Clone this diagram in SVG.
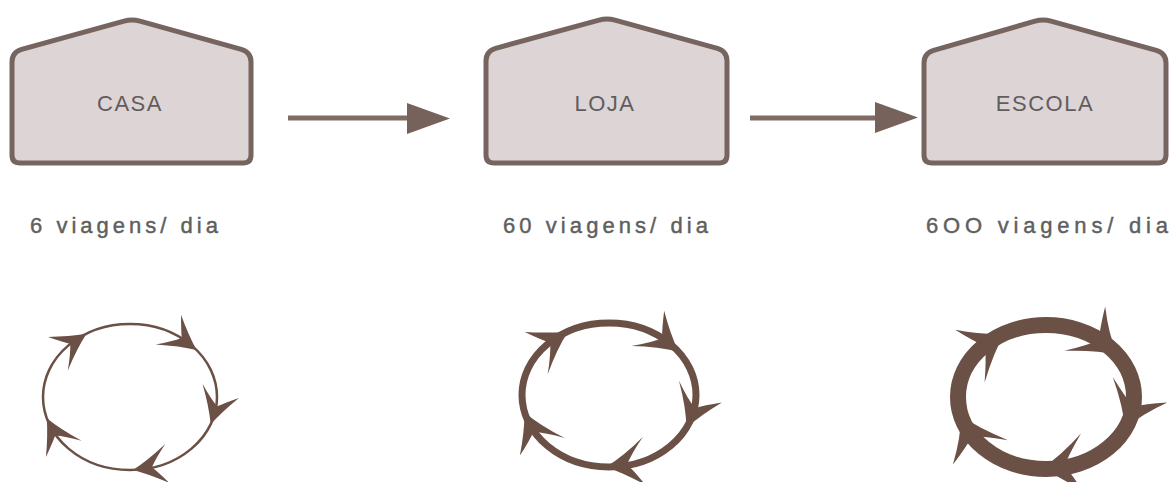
<svg xmlns="http://www.w3.org/2000/svg" width="1172" height="482" viewBox="0 0 1172 482">
  <style>
    .house { fill: #dcd4d5; stroke: #76655f; stroke-width: 5; stroke-linejoin: round; }
    .name { font-family: "Liberation Sans", Arial, sans-serif; font-size: 22px; fill: #625c5e; letter-spacing: 1.5px; }
    .rate { font-family: "Liberation Sans", Arial, sans-serif; font-size: 22px; fill: #5f5f5f; stroke: #5f5f5f; stroke-width: 0.45px; }
    .link { stroke: #7f6c65; stroke-width: 5; fill: none; }
    .linkhead { fill: #76625a; }
    .ring { fill: none; stroke: #6b5046; }
    .head { fill: #6b5046; }
  </style>
  <defs>
    <!-- swept arrowheads for the cycle rings; tip at origin, pointing +x, +y toward ring centre -->
    <path id="head-s" d="M0,0 Q-17,-5 -36,-14 Q-25,-3 -19,2 Q-23,11 -33,25 Q-15,9 0,0 Z"/>
    <path id="head-m" d="M0,0 Q-19,-6 -40,-17 Q-28,-3 -21,3 Q-25,14 -36,31 Q-17,11 0,0 Z"/>
    <path id="head-l" d="M0,0 Q-21,-7 -44,-23 Q-31,-4 -23,4 Q-27,16 -38,37 Q-18,13 0,0 Z"/>
  </defs>

  <g id="casa">
    <path class="house" d="M12,62 Q12,52 21.6,49.3 L124,21.2 Q132,19 140,21.2 L241.4,49.3 Q251,52 251,62 L251,155 Q251,163 243,163 L20,163 Q12,163 12,155 Z"/>
    <text class="name" x="130" y="111" text-anchor="middle">CASA</text>
  </g>

  <g id="loja">
    <path class="house" d="M486,61 Q486,51 495.6,48.3 L599,20.2 Q607,18 615,20.2 L717.4,48.3 Q727,51 727,61 L727,155 Q727,163 719,163 L494,163 Q486,163 486,155 Z"/>
    <text class="name" x="605" y="111" text-anchor="middle">LOJA</text>
  </g>

  <g id="escola">
    <path class="house" d="M924,63 Q924,53 933.6,50.3 L1035,21.2 Q1043,19 1051,21.2 L1156.4,50.3 Q1166,53 1166,63 L1166,155 Q1166,163 1158,163 L932,163 Q924,163 924,155 Z"/>
    <text class="name" x="1045" y="111" text-anchor="middle">ESCOLA</text>
  </g>

  <g id="connectors">
    <line class="link" x1="288" y1="118" x2="410" y2="118"/>
    <polygon class="linkhead" points="407,103 450,118.5 407,134"/>
    <line class="link" x1="750" y1="118" x2="878" y2="118"/>
    <polygon class="linkhead" points="875,102 918,117.5 875,133"/>
  </g>

  <g id="labels">
    <text class="rate" x="30" y="233" textLength="188" lengthAdjust="spacing">6 viagens/ dia</text>
    <text class="rate" x="503" y="233" textLength="205" lengthAdjust="spacing">60 viagens/ dia</text>
    <text class="rate" x="926" y="233" textLength="242" lengthAdjust="spacing">6OO viagens/ dia</text>
  </g>

  <!-- trip cycles: thin, medium and heavy rings, clockwise -->
  <g id="cycle-casa">
    <ellipse class="ring" cx="130" cy="397" rx="87" ry="73" stroke-width="2.5"/>
    <use href="#head-s" class="head" transform="translate(86.5,333.8) rotate(-25.9)"/>
    <use href="#head-s" class="head" transform="translate(196.6,350.1) rotate(45)"/>
    <use href="#head-s" class="head" transform="translate(210.7,424.3) rotate(115.7)"/>
    <use href="#head-s" class="head" transform="translate(133,469.9) rotate(178.4)"/>
    <use href="#head-s" class="head" transform="translate(46.8,418.3) rotate(-110)"/>
  </g>

  <g id="cycle-loja">
    <ellipse class="ring" cx="609" cy="395" rx="87" ry="72" stroke-width="7"/>
    <use href="#head-m" class="head" transform="translate(568.2,331.4) rotate(-23.7)"/>
    <use href="#head-m" class="head" transform="translate(678.5,351.7) rotate(47.7)"/>
    <use href="#head-m" class="head" transform="translate(686.5,427.7) rotate(121.6)"/>
    <use href="#head-m" class="head" transform="translate(606,466.9) rotate(181.6)"/>
    <use href="#head-m" class="head" transform="translate(524.6,412.4) rotate(-106.8)"/>
  </g>

  <g id="cycle-escola">
    <ellipse class="ring" cx="1046" cy="397" rx="88" ry="72" stroke-width="16"/>
    <use href="#head-l" class="head" transform="translate(1004.7,333.4) rotate(-23.5)"/>
    <use href="#head-l" class="head" transform="translate(1117.2,354.7) rotate(48.4)"/>
    <use href="#head-l" class="head" transform="translate(1125.1,428.5) rotate(120.8)"/>
    <use href="#head-l" class="head" transform="translate(1041.4,468.9) rotate(182.5)"/>
    <use href="#head-l" class="head" transform="translate(961,415.6) rotate(-108.2)"/>
  </g>
</svg>
